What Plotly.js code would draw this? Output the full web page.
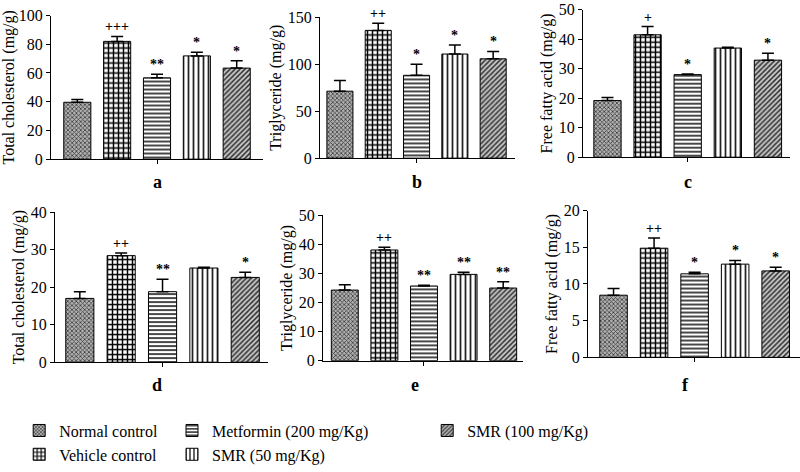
<!DOCTYPE html>
<html><head><meta charset="utf-8">
<script src="https://cdn.plot.ly/plotly-3.0.1.min.js"></script>
<style>html,body{margin:0;padding:0;background:#fff}</style>
</head><body><div id="chart" style="width:800px;height:472px"></div>
<script>
const groups = ["Normal control","Vehicle control","Metformin (200 mg/Kg)","SMR (50 mg/Kg)","SMR (100 mg/Kg)"];
const panelLetters = ["a","b","c","d","e","f"];
const yTitles = ["Total cholesterol (mg/g)","Triglyceride (mg/g)","Free fatty acid (mg/g)",
                 "Total cholesterol (mg/g)","Triglyceride (mg/g)","Free fatty acid (mg/g)"];
const yMax = [100,150,50,40,50,20];
const yStep = [20,50,10,10,10,5];

const aMean = [39.6, 82.0, 56.6, 71.9, 63.4];
const aErr  = [2.0, 3.4, 2.5, 2.5, 5.1];
const aSig  = ["", "+++", "**", "*", "*"];

const bMean = [71.4, 136.2, 88.3, 111.0, 105.9];
const bErr  = [11.4, 7.6, 11.7, 9.7, 7.9];
const bSig  = ["", "++", "*", "*", "*"];

const cMean = [19.2, 41.5, 28.0, 37.0, 32.9];
const cErr  = [1.0, 2.8, 0.2, 0.3, 2.3];
const cSig  = ["", "+", "*", "", "*"];

const dMean = [17.0, 28.4, 18.8, 25.1, 22.6];
const dErr  = [1.8, 0.7, 3.3, 0.2, 1.4];
const dSig  = ["", "++", "**", "", "*"];

const eMean = [24.3, 38.1, 25.7, 29.7, 25.0];
const eErr  = [1.8, 0.9, 0.3, 0.7, 2.2];
const eSig  = ["", "++", "**", "**", "**"];

const fMean = [8.47, 14.87, 11.38, 12.7, 11.78];
const fErr  = [0.9, 1.4, 0.2, 0.5, 0.5];
const fSig  = ["", "++", "*", "*", "*"];

const means = [aMean,bMean,cMean,dMean,eMean,fMean];
const errs  = [aErr,bErr,cErr,dErr,eErr,fErr];
const sigs  = [aSig,bSig,cSig,dSig,eSig,fSig];

const FONT = "Liberation Serif, Times New Roman, serif";

const patterns = [
  {shape:"x", size:3, solidity:0.45, fgcolor:"#3a3a3a", bgcolor:"#b0b0b0", fillmode:"replace"},
  {shape:"+", size:5, solidity:0.5, fgcolor:"#000", bgcolor:"#fff", fillmode:"replace"},
  {shape:"-", size:4, solidity:0.45, fgcolor:"#333", bgcolor:"#fff", fillmode:"replace"},
  {shape:"|", size:5, solidity:0.35, fgcolor:"#222", bgcolor:"#fff", fillmode:"replace"},
  {shape:"/", size:3.5, solidity:0.45, fgcolor:"#333", bgcolor:"#c8c8c8", fillmode:"replace"}
];
const legendOf = ["legend","legend","legend2","legend2","legend3"];

const xDomains = [[0.06375,0.32875],[0.4,0.64375],[0.72875,0.9875],[0.06875,0.335],[0.40375,0.65375],[0.735,1.0]];
const yDomains = [[0.6525,0.9661],[0.6547,0.9619],[0.6568,0.9788],[0.2091,0.5369],[0.2125,0.5297],[0.2197,0.5403]];
const xRanges = [[-0.66,4.66],[-0.52,4.57],[-0.61,4.55],[-0.6,4.55],[-0.55,4.5],[-0.63,4.6]];
const labelPos = [[157,188],[417,188],[688,188],[157,397],[415,397],[685,397]];

const traces = [];
const annotations = [];
const legBase = {y:0.097, xanchor:"left", yanchor:"top", orientation:"v", font:{family:FONT,size:16}, tracegroupgap:0, itemwidth:30, bgcolor:"rgba(0,0,0,0)"};
const layout = {
  width:800, height:472, margin:{l:0,r:0,t:0,b:0},
  paper_bgcolor:"#fff", plot_bgcolor:"rgba(0,0,0,0)",
  font:{family:FONT, color:"#000", size:15},
  bargap:0, barmode:"overlay",
  legend:Object.assign({x:0.024}, legBase),
  legend2:Object.assign({x:0.215}, legBase),
  legend3:Object.assign({x:0.534}, legBase),
  showlegend:true
};

for (let p = 0; p < 6; p++) {
  const sfx = p === 0 ? "" : String(p+1);
  const xa = "x" + sfx, ya = "y" + sfx;
  for (let g = 0; g < 5; g++) {
    traces.push({
      type:"bar", x:[g], y:[means[p][g]], width:0.68,
      name:groups[g], legend:legendOf[g], showlegend:p===0,
      xaxis:xa, yaxis:ya,
      marker:{color:"#fff", line:{color:"#000", width:1}, pattern:patterns[g]},
      error_y:{type:"data", symmetric:false, array:[errs[p][g]], arrayminus:[0], color:"#000", thickness:1.5, width:6},
      hoverinfo:"skip"
    });
    if (sigs[p][g]) {
      annotations.push({xref:xa, yref:ya, x:g, y:means[p][g]+errs[p][g], text:"<b>"+sigs[p][g]+"</b>",
        showarrow:false, yanchor:"bottom", yshift:0, font:{family:FONT, size:14, color:"#000"}});
    }
  }
  layout["xaxis"+sfx] = {domain:xDomains[p], anchor:ya, range:xRanges[p], showgrid:false, zeroline:false,
    showline:true, linecolor:"#000", linewidth:1, ticks:"outside", ticklen:4, tickcolor:"#000",
    tickvals:[2], ticktext:[""], fixedrange:true};
  layout["yaxis"+sfx] = {domain:yDomains[p], anchor:xa, range:[0,yMax[p]], dtick:yStep[p], tick0:0,
    showgrid:false, zeroline:false, showline:true, linecolor:"#000", linewidth:1,
    ticks:"outside", ticklen:4, tickcolor:"#000", tickfont:{family:FONT,size:16},
    title:{text:yTitles[p], font:{family:FONT,size:16}, standoff:2}, fixedrange:true};
  annotations.push({xref:"paper", yref:"paper", x:labelPos[p][0]/800, y:1-labelPos[p][1]/472,
    text:"<b>"+panelLetters[p]+"</b>", showarrow:false, xanchor:"center", yanchor:"middle",
    font:{family:FONT, size:18, color:"#000"}});
}
layout.annotations = annotations;
Plotly.newPlot("chart", traces, layout, {displayModeBar:false, staticPlot:true});
</script></body></html>
